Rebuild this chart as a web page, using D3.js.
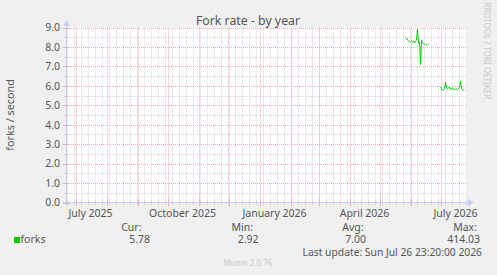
<!DOCTYPE html>
<html>
<head>
<meta charset="utf-8">
<script src="https://cdn.jsdelivr.net/npm/d3@7"></script>
<style>
  html, body { margin: 0; padding: 0; background: #f0f0f0; }
  svg { display: block; }
  text { font-family: "Noto Sans", "DejaVu Sans", sans-serif; fill: #555; }
</style>
</head>
<body>
<svg width="497" height="275"></svg>
<script>
// values (daily averages), null = no data
const days = [
  "2026-05-27", "2026-05-28", "2026-05-29", "2026-05-30", "2026-05-31",
  "2026-06-01", "2026-06-02", "2026-06-03", "2026-06-04", "2026-06-05",
  "2026-06-06", "2026-06-07", "2026-06-08", "2026-06-09", "2026-06-10",
  "2026-06-11", "2026-06-12", "2026-06-13", "2026-06-14", "2026-06-15",
  "2026-06-16", "2026-06-17", "2026-06-18", "2026-06-19", "2026-06-20",
  "2026-07-01", "2026-07-02", "2026-07-03", "2026-07-04", "2026-07-05",
  "2026-07-06", "2026-07-07", "2026-07-08", "2026-07-09", "2026-07-10",
  "2026-07-11", "2026-07-12", "2026-07-13", "2026-07-14", "2026-07-15",
  "2026-07-16", "2026-07-17", "2026-07-18", "2026-07-19", "2026-07-20",
  "2026-07-21", "2026-07-22", "2026-07-23", "2026-07-24", "2026-07-25"
];
const forks = [
  8.50, 8.45, 8.35, 8.30, 8.30,
  8.25, 8.30, 8.25, 8.30, 8.20,
  8.30, 8.35, 8.90, 8.20, 8.25,
  7.10, 8.35, 8.20, 8.15, 8.15,
  8.12, 8.12, 8.10, 8.10, null,
  5.95, 5.85, 5.78, 5.80, 5.85,
  6.20, 5.90, 5.85, 5.90, 5.95,
  5.80, 5.85, 5.90, 5.80, 5.85,
  5.80, 5.85, 5.80, 5.85, 5.90,
  6.25, 5.85, 5.80, 5.80, 5.78
];
const yTicks = [0, 1, 2, 3, 4, 5, 6, 7, 8, 9];
const legendCols = ["Cur:", "Min:", "Avg:", "Max:"];
const legendVals = ["5.78", "2.92", "7.00", "414.03"];
const lastUpdate = "2026-07-26T23:20:00Z";

const end = new Date(lastUpdate);
const start = d3.utcDay.offset(end, -400);
const parseDay = d3.utcParse("%Y-%m-%d");

const svg = d3.select('svg');
const x = d3.scaleUtc().domain([start, end]).range([66.5, 466.5]);
const y = d3.scaleLinear().domain([0, 9]).range([202.5, 27.5]);

svg.append('rect')
    .attr('x', 67).attr('y', 27.5)
    .attr('width', 400).attr('height', 175)
    .attr('fill', 'white');

const minorCol = '#d4d4d4';
const majorCol = '#eaaeae';
const grid = svg.append('g');
const minorX = d3.utcSunday.range(start, end);
const majorX = d3.utcMonth.range(start, end);
const minorY = d3.range(0.5, 9, 1);

grid.selectAll('.vminor').data(minorX).enter().append('line')
    .attr('x1', d => Math.round(x(d)) + 0.5).attr('x2', d => Math.round(x(d)) + 0.5)
    .attr('y1', y(0)).attr('y2', y(9))
    .attr('stroke', minorCol).attr('stroke-dasharray', '1,1');
grid.selectAll('.hminor').data(minorY).enter().append('line')
    .attr('x1', 67).attr('x2', 467)
    .attr('y1', d => Math.round(y(d)) + 0.5).attr('y2', d => Math.round(y(d)) + 0.5)
    .attr('stroke', minorCol).attr('stroke-dasharray', '1,1');
grid.selectAll('.vmajor').data(majorX).enter().append('line')
    .attr('x1', d => Math.round(x(d)) + 0.5).attr('x2', d => Math.round(x(d)) + 0.5)
    .attr('y1', y(0)).attr('y2', y(9))
    .attr('stroke', majorCol).attr('stroke-dasharray', '1,1');
grid.selectAll('.hmajor').data(yTicks.slice(1)).enter().append('line')
    .attr('x1', 67).attr('x2', 467)
    .attr('y1', d => Math.round(y(d)) + 0.5).attr('y2', d => Math.round(y(d)) + 0.5)
    .attr('stroke', majorCol).attr('stroke-dasharray', '1,1');

// ticks on the axes
grid.selectAll('.tminor').data(minorX).enter().append('line')
    .attr('x1', d => Math.round(x(d)) + 0.5).attr('x2', d => Math.round(x(d)) + 0.5)
    .attr('y1', 200).attr('y2', 205).attr('stroke', minorCol);
grid.selectAll('.tmajor').data(majorX).enter().append('line')
    .attr('x1', d => Math.round(x(d)) + 0.5).attr('x2', d => Math.round(x(d)) + 0.5)
    .attr('y1', 199).attr('y2', 206).attr('stroke', majorCol);
grid.selectAll('.ytminor').data(minorY).enter().append('line')
    .attr('x1', 64).attr('x2', 69)
    .attr('y1', d => Math.round(y(d)) + 0.5).attr('y2', d => Math.round(y(d)) + 0.5)
    .attr('stroke', minorCol);
grid.selectAll('.ytmajor').data(yTicks).enter().append('line')
    .attr('x1', 63).attr('x2', 70)
    .attr('y1', d => Math.round(y(d)) + 0.5).attr('y2', d => Math.round(y(d)) + 0.5)
    .attr('stroke', majorCol);

// axes with arrows
const axisColor = '#c4ccf4';
svg.append('line').attr('x1', 63).attr('x2', 469).attr('y1', 202.5).attr('y2', 202.5).attr('stroke', axisColor);
svg.append('line').attr('x1', 66.5).attr('x2', 66.5).attr('y1', 206).attr('y2', 24).attr('stroke', axisColor);
svg.append('path').attr('d', 'M468,199L474,202.5L468,206Z').attr('fill', axisColor);
svg.append('path').attr('d', 'M63,26L66.5,20L70,26Z').attr('fill', axisColor);

// tick labels
svg.selectAll('.ylab').data(yTicks).enter().append('text')
    .attr('x', 60).attr('y', d => y(d) + 3.8)
    .attr('text-anchor', 'end').style('font-size', '10.5px')
    .text(d => d3.format('.1f')(d));

const labelMonths = majorX.filter(d => d.getUTCMonth() % 3 === 0);
svg.selectAll('.xlab').data(labelMonths).enter().append('text')
    .attr('x', d => x(d3.utcDay.offset(d, 15)))
    .attr('y', 216.5)
    .attr('text-anchor', 'middle').style('font-size', '10.5px')
    .text(d => d3.utcFormat('%B %Y')(d));

// data line
const line = d3.line()
    .defined(d => d[1] != null)
    .x(d => x(parseDay(d[0])))
    .y(d => y(d[1]));
svg.append('path')
    .datum(days.map((d, i) => [d, forks[i]]))
    .attr('d', line)
    .attr('fill', 'none')
    .attr('stroke', '#00cc00')
    .attr('stroke-width', 1);

// title and labels
svg.append('text').attr('x', 248).attr('y', 24.5)
    .attr('text-anchor', 'middle').style('font-size', '12.3px')
    .text('Fork rate - by year');
svg.append('text')
    .attr('transform', 'translate(14,115) rotate(-90)')
    .attr('text-anchor', 'middle').style('font-size', '10.8px')
    .text('forks / second');
svg.append('text')
    .attr('transform', 'translate(484,51) rotate(90)')
    .attr('text-anchor', 'middle').style('font-size', '8px').style('fill', '#c8c8c8')
    .text('RRDTOOL / TOBI OETIKER');

// legend
svg.append('rect').attr('x', 14).attr('y', 237).attr('width', 6).attr('height', 6).attr('fill', '#00cc00');
svg.append('text').attr('x', 20.5).attr('y', 243).style('font-size', '10.5px').text('forks');
const headRight = [141.5, 253, 363.5, 477];
const valRight = [150, 258.5, 366, 480];
svg.selectAll('.lh').data(legendCols).enter().append('text')
    .attr('x', (d, i) => headRight[i]).attr('y', 230.5)
    .attr('text-anchor', 'end').style('font-size', '10.5px').text(d => d);
svg.selectAll('.lv').data(legendVals).enter().append('text')
    .attr('x', (d, i) => valRight[i]).attr('y', 243)
    .attr('text-anchor', 'end').style('font-size', '10.5px').text(d => d);
svg.append('text').attr('x', 482).attr('y', 255.5)
    .attr('text-anchor', 'end').style('font-size', '10.3px')
    .text('Last update: ' + d3.utcFormat('%a %b %d %H:%M:%S %Y')(end));
svg.append('text').attr('x', 248).attr('y', 265.5)
    .attr('text-anchor', 'middle').style('font-size', '8px').style('fill', '#c8c8c8')
    .text('Munin 2.0.76');
</script>
</body>
</html>
